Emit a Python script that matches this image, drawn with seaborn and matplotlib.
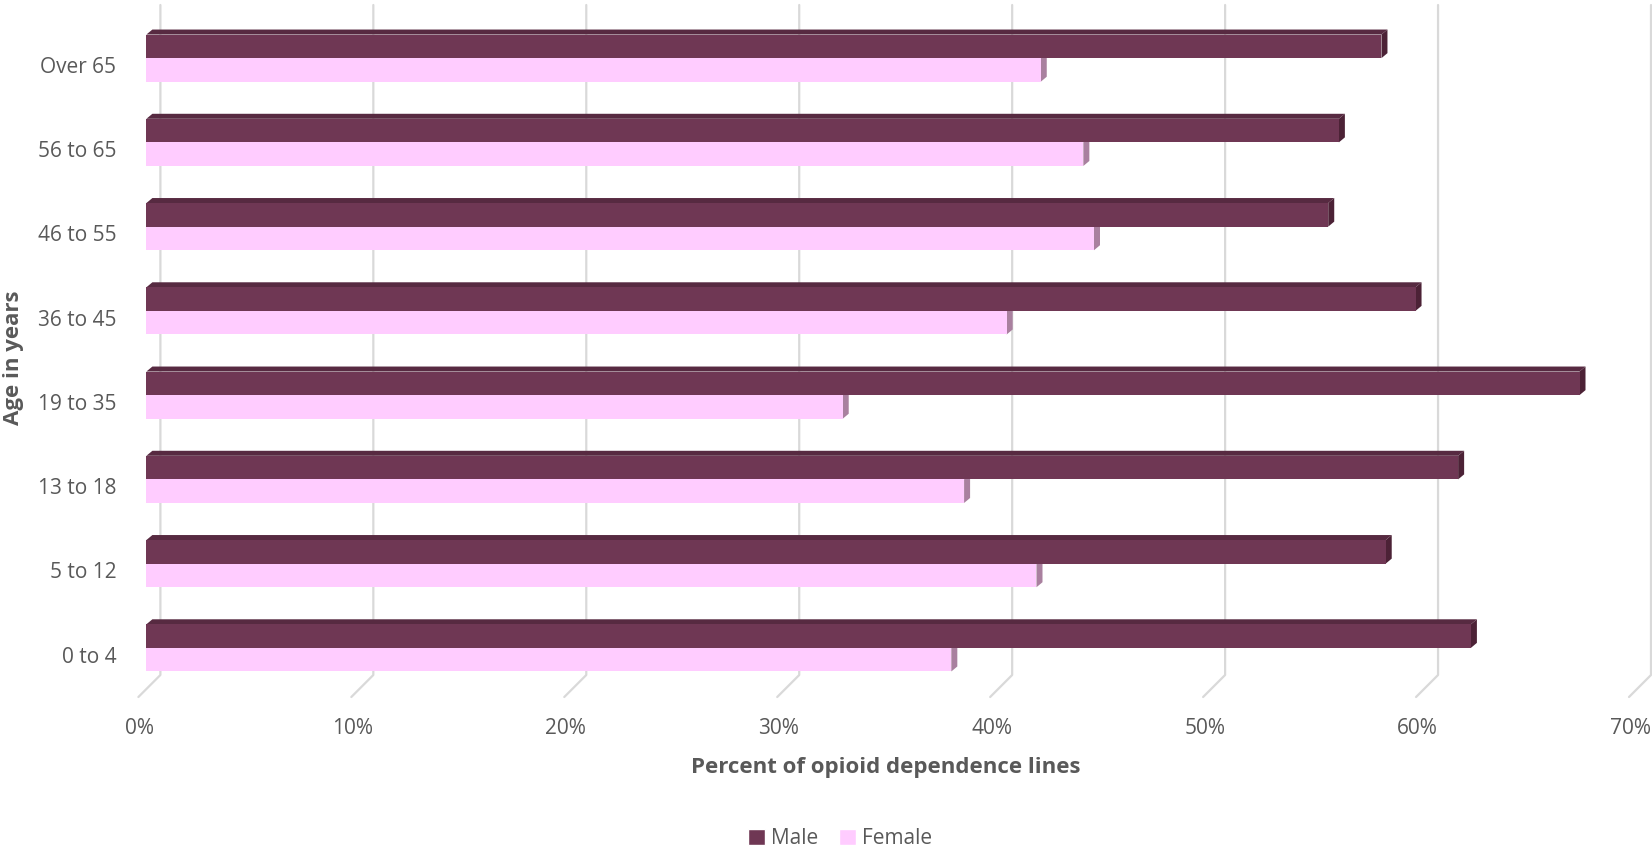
import numpy as np
import pandas as pd
import matplotlib
matplotlib.use("Agg")
import matplotlib.pyplot as plt
from matplotlib.patches import Polygon, Patch
from matplotlib.lines import Line2D
from matplotlib.transforms import IdentityTransform
import seaborn as sns

# data (percent of opioid dependence lines)
age_groups = ["Over 65", "56 to 65", "46 to 55", "36 to 45",
              "19 to 35", "13 to 18", "5 to 12", "0 to 4"]
male = [58.0, 56.0, 55.5, 59.6, 67.3, 61.6, 58.2, 62.2]
female = [42.0, 44.0, 44.5, 40.4, 32.7, 38.4, 41.8, 37.8]
x_ticks = [0, 10, 20, 30, 40, 50, 60, 70]

colors = {"Male": "#6f3754", "Female": "#ffccff"}
top_col = {"Male": "#572a41", "Female": "#e8b4e6"}
end_col = {"Male": "#4c2236", "Female": "#a9809f"}
text_col = "#595959"

df = pd.DataFrame({
    "age": age_groups * 2,
    "sex": ["Male"] * len(male) + ["Female"] * len(female),
    "pct": male + female,
})

sns.set_theme(style="white")
plt.rcParams["font.family"] = ["Open Sans", "DejaVu Sans"]

fig = plt.figure(figsize=(16.52, 8.5), dpi=100)
W, H = 1652, 850
ax = fig.add_axes([140 / W, 1 - 690 / H, (1637 - 140) / W, (690 - 16) / H])

sns.barplot(data=df, y="age", x="pct", hue="sex", order=age_groups,
            hue_order=["Male", "Female"], palette=colors, saturation=1,
            width=0.56, linewidth=0, orient="h", legend=False, ax=ax,
            errorbar=None, zorder=3)

# labels sit on the front edge of the floor, a little left of the back wall
shift = 0.3
ax.set_xticks(np.array(x_ticks) - shift, [f"{t}%" for t in x_ticks])
ax.set_yticks(np.arange(len(age_groups)) + 0.08, age_groups)
ax.set_xlim(-shift, 70)
ax.set_ylim(len(age_groups) - 0.5, -0.5)
ax.set_xlabel("")
ax.set_ylabel("")
for s in ax.spines.values():
    s.set_visible(False)
ax.tick_params(axis="x", length=0, pad=20, labelsize=15, colors=text_col)
ax.tick_params(axis="y", length=0, pad=17, labelsize=15, colors=text_col)
ax.grid(False)

# back-wall gridlines with the little floor diagonal
dx, dy = 6, 5
for t in x_ticks:
    bx, by = ax.transData.transform((t, len(age_groups) - 0.5))
    gx = bx + 14
    ln = Line2D([bx - 8, gx, gx], [by - 7, by + 15, H - 5], color="#d9d9d9",
                lw=1.6, transform=IdentityTransform(), zorder=0.5, clip_on=False)
    ax.add_artist(ln)

# fake 3d faces for every bar
for cont, sex in zip(ax.containers, ["Male", "Female"]):
    for bar in cont:
        (x0, y0), (x1, y1) = ax.transData.transform(
            [(bar.get_x(), bar.get_y() + bar.get_height()),
             (bar.get_x() + bar.get_width(), bar.get_y())])
        yb, yt = min(y0, y1), max(y0, y1)
        top = Polygon([(x0, yt), (x1, yt), (x1 + dx, yt + dy), (x0 + dx, yt + dy)],
                      closed=True, facecolor=top_col[sex], edgecolor="none",
                      transform=IdentityTransform(), zorder=2)
        end = Polygon([(x1, yb), (x1, yt), (x1 + dx, yt + dy), (x1 + dx, yb + dy)],
                      closed=True, facecolor=end_col[sex], edgecolor="none",
                      transform=IdentityTransform(), zorder=2)
        ax.add_artist(top)
        ax.add_artist(end)

fig.text(13 / W, 1 - 358 / H, "Age in years", rotation=90, ha="center",
         va="center", fontsize=16, fontweight="bold", color=text_col)
fig.text(886 / W, 1 - 767 / H, "Percent of opioid dependence lines", ha="center",
         va="center", fontsize=16, fontweight="bold", color=text_col)

handles = [Patch(facecolor=colors["Male"], label="Male"),
           Patch(facecolor=colors["Female"], label="Female")]
fig.legend(handles=handles, loc="center", bbox_to_anchor=(840 / W, 1 - 839 / H),
           ncol=2, frameon=False, fontsize=15, handlelength=0.8, handleheight=0.8,
           handletextpad=0.3, columnspacing=1.0, labelcolor=text_col,
           borderpad=0.2)

fig.savefig("out.png", dpi=100)
